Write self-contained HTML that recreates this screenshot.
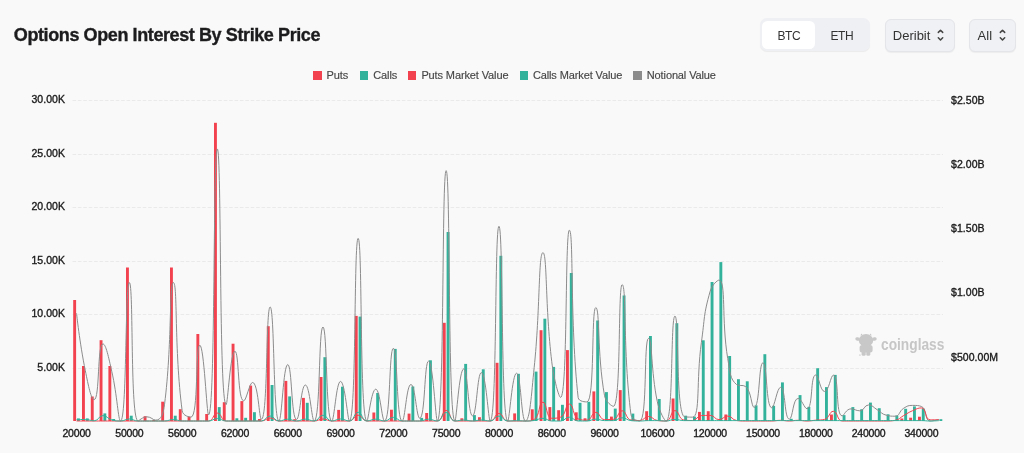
<!DOCTYPE html>
<html><head><meta charset="utf-8">
<style>
*{margin:0;padding:0;box-sizing:border-box}
body{will-change:transform}
html,body{width:1024px;height:453px;overflow:hidden;background:#f9f9f9;font-family:"Liberation Sans",sans-serif}
.title{position:absolute;left:13.8px;top:25.2px;font-size:18px;font-weight:bold;color:#1c1c1e;-webkit-text-stroke:0.35px #1c1c1e;letter-spacing:-0.4px;white-space:nowrap}
.seg{position:absolute;left:760px;top:18.2px;width:110.2px;height:32.5px;background:#eff0f4;border-radius:7px;box-shadow:0 1px 1px rgba(0,0,0,0.06)}
.seg .on{position:absolute;left:2px;top:2.6px;width:52.8px;height:28.4px;background:#fff;border-radius:5.5px}
.seg span{position:absolute;top:11px;font-size:12px;color:#333;letter-spacing:-0.45px}
.dd{position:absolute;top:18.5px;height:33px;background:#f0f1f4;border:1px solid #e4e5e9;border-radius:6px;box-shadow:0 1px 1px rgba(0,0,0,0.05)}
.dd span{position:absolute;top:8.6px;font-size:13px;color:#333;letter-spacing:0px}
.chev{position:absolute;top:28px}
.leg{position:absolute;top:69.2px;font-size:11px;color:#464646;-webkit-text-stroke:0.15px #464646;letter-spacing:-0.12px;white-space:nowrap}
.sq{position:absolute;top:71px;width:8.6px;height:8.6px}
.yl{position:absolute;right:959px;font-size:10.5px;color:#1a1a1a;-webkit-text-stroke:0.35px #1a1a1a;letter-spacing:0.05px;white-space:nowrap;line-height:14px}
.yr{position:absolute;left:951px;font-size:10.5px;color:#1a1a1a;-webkit-text-stroke:0.35px #1a1a1a;letter-spacing:0.05px;white-space:nowrap;line-height:14px}
.xl{position:absolute;top:426px;width:60px;text-align:center;font-size:10.5px;color:#1a1a1a;-webkit-text-stroke:0.35px #1a1a1a;letter-spacing:-0.2px;line-height:14px}
.wm{position:absolute;left:881px;top:335.4px;font-size:16.5px;font-weight:bold;color:#c6c6c6;transform:scaleX(0.833);transform-origin:0 0;line-height:19px}
svg.chart{position:absolute;left:0;top:0}
</style></head><body>
<div class="title">Options Open Interest By Strike Price</div>
<div class="seg"><div class="on"></div><span style="left:17.5px">BTC</span><span style="left:70.5px">ETH</span></div>
<div class="dd" style="left:885px;width:69.5px"><span style="left:6.8px">Deribit</span></div>
<div class="dd" style="left:969px;width:47px"><span style="left:7.6px">All</span></div>

<svg class="chev" style="left:936px" width="9" height="14" viewBox="0 0 9 14"><path d="M2.3 4.4L4.5 2.2L6.7 4.4M2.3 9.8L4.5 12L6.7 9.8" fill="none" stroke="#444" stroke-width="1.5" stroke-linecap="round" stroke-linejoin="round"/></svg>
<svg class="chev" style="left:997.5px" width="9" height="14" viewBox="0 0 9 14"><path d="M2.3 4.4L4.5 2.2L6.7 4.4M2.3 9.8L4.5 12L6.7 9.8" fill="none" stroke="#444" stroke-width="1.5" stroke-linecap="round" stroke-linejoin="round"/></svg>
<div class="sq" style="left:313.2px;background:#f3424f"></div><div class="leg" style="left:326.5px">Puts</div>
<div class="sq" style="left:359.8px;background:#33b29b"></div><div class="leg" style="left:373.3px">Calls</div>
<div class="sq" style="left:407.7px;background:#f3424f"></div><div class="leg" style="left:421.4px">Puts Market Value</div>
<div class="sq" style="left:519.6px;background:#33b29b"></div><div class="leg" style="left:532.9px">Calls Market Value</div>
<div class="sq" style="left:633px;background:#8c8c8c"></div><div class="leg" style="left:646.8px">Notional Value</div>

<svg style="position:absolute;left:852px;top:330px" width="28" height="28" viewBox="0 0 28 28"><g fill="#c8c8c8">
<path d="M8.4 5.4L9.4 3.5L10.8 5.2ZM17.3 5.2L18.7 3.5L19.7 5.4Z"/>
<ellipse cx="14" cy="10.4" rx="7.2" ry="6.3"/>
<ellipse cx="5.6" cy="9" rx="2.3" ry="1.8" transform="rotate(12 5.6 9)"/>
<ellipse cx="22.4" cy="9" rx="2.3" ry="1.8" transform="rotate(-12 22.4 9)"/>
<rect x="7.6" y="15" width="13" height="7.5" rx="2.5"/>
<rect x="9.6" y="20" width="4.1" height="5.8" rx="1.6"/>
<rect x="14.3" y="20" width="4" height="5.8" rx="1.6"/>
<ellipse cx="7.9" cy="25" rx="1" ry="0.6"/>
</g></svg>
<div class="wm">coinglass</div>
<svg class="chart" width="1024" height="453">
<line x1="72" y1="100.5" x2="943" y2="100.5" stroke="#eaeaea" stroke-width="1" stroke-dasharray="3.6 1.8" stroke-dashoffset="-0.5"/>
<line x1="72" y1="154.5" x2="943" y2="154.5" stroke="#eaeaea" stroke-width="1" stroke-dasharray="3.6 1.8" stroke-dashoffset="-0.5"/>
<line x1="72" y1="207.5" x2="943" y2="207.5" stroke="#eaeaea" stroke-width="1" stroke-dasharray="3.6 1.8" stroke-dashoffset="-0.5"/>
<line x1="72" y1="261.5" x2="943" y2="261.5" stroke="#eaeaea" stroke-width="1" stroke-dasharray="3.6 1.8" stroke-dashoffset="-0.5"/>
<line x1="72" y1="314.5" x2="943" y2="314.5" stroke="#eaeaea" stroke-width="1" stroke-dasharray="3.6 1.8" stroke-dashoffset="-0.5"/>
<line x1="72" y1="368.5" x2="943" y2="368.5" stroke="#eaeaea" stroke-width="1" stroke-dasharray="3.6 1.8" stroke-dashoffset="-0.5"/>
<rect x="73.20" y="300.00" width="2.90" height="121.00" fill="#f3424f"/>
<rect x="77.00" y="418.40" width="2.90" height="2.60" fill="#33b29b"/>
<rect x="82.00" y="366.00" width="2.90" height="55.00" fill="#f3424f"/>
<rect x="85.80" y="418.40" width="2.90" height="2.60" fill="#33b29b"/>
<rect x="90.80" y="396.50" width="2.90" height="24.50" fill="#f3424f"/>
<rect x="99.60" y="340.20" width="2.90" height="80.80" fill="#f3424f"/>
<rect x="103.40" y="413.40" width="2.90" height="7.60" fill="#33b29b"/>
<rect x="108.40" y="366.00" width="2.90" height="55.00" fill="#f3424f"/>
<rect x="112.20" y="419.00" width="2.90" height="2.00" fill="#33b29b"/>
<rect x="126.00" y="267.50" width="2.90" height="153.50" fill="#f3424f"/>
<rect x="129.80" y="415.70" width="2.90" height="5.30" fill="#33b29b"/>
<rect x="143.60" y="416.20" width="2.90" height="4.80" fill="#f3424f"/>
<rect x="152.40" y="420.00" width="2.90" height="1.00" fill="#f3424f"/>
<rect x="161.20" y="401.70" width="2.90" height="19.30" fill="#f3424f"/>
<rect x="170.00" y="267.50" width="2.90" height="153.50" fill="#f3424f"/>
<rect x="173.80" y="415.70" width="2.90" height="5.30" fill="#33b29b"/>
<rect x="178.80" y="409.20" width="2.90" height="11.80" fill="#f3424f"/>
<rect x="187.60" y="416.60" width="2.90" height="4.40" fill="#f3424f"/>
<rect x="196.40" y="334.00" width="2.90" height="87.00" fill="#f3424f"/>
<rect x="205.20" y="414.00" width="2.90" height="7.00" fill="#f3424f"/>
<rect x="214.00" y="122.80" width="2.90" height="298.20" fill="#f3424f"/>
<rect x="217.80" y="407.10" width="2.90" height="13.90" fill="#33b29b"/>
<rect x="222.80" y="402.20" width="2.90" height="18.80" fill="#f3424f"/>
<rect x="231.60" y="343.70" width="2.90" height="77.30" fill="#f3424f"/>
<rect x="235.40" y="418.30" width="2.90" height="2.70" fill="#33b29b"/>
<rect x="240.40" y="401.10" width="2.90" height="19.90" fill="#f3424f"/>
<rect x="244.20" y="417.80" width="2.90" height="3.20" fill="#33b29b"/>
<rect x="249.20" y="385.60" width="2.90" height="35.40" fill="#f3424f"/>
<rect x="253.00" y="412.20" width="2.90" height="8.80" fill="#33b29b"/>
<rect x="258.00" y="419.00" width="2.90" height="2.00" fill="#f3424f"/>
<rect x="266.80" y="326.20" width="2.90" height="94.80" fill="#f3424f"/>
<rect x="270.60" y="385.00" width="2.90" height="36.00" fill="#33b29b"/>
<rect x="284.40" y="380.90" width="2.90" height="40.10" fill="#f3424f"/>
<rect x="288.20" y="396.40" width="2.90" height="24.60" fill="#33b29b"/>
<rect x="293.20" y="419.20" width="2.90" height="1.80" fill="#f3424f"/>
<rect x="302.00" y="397.90" width="2.90" height="23.10" fill="#f3424f"/>
<rect x="305.80" y="402.80" width="2.90" height="18.20" fill="#33b29b"/>
<rect x="319.60" y="377.00" width="2.90" height="44.00" fill="#f3424f"/>
<rect x="323.40" y="357.20" width="2.90" height="63.80" fill="#33b29b"/>
<rect x="337.20" y="409.90" width="2.90" height="11.10" fill="#f3424f"/>
<rect x="341.00" y="386.70" width="2.90" height="34.30" fill="#33b29b"/>
<rect x="354.80" y="315.90" width="2.90" height="105.10" fill="#f3424f"/>
<rect x="358.60" y="316.60" width="2.90" height="104.40" fill="#33b29b"/>
<rect x="372.40" y="412.50" width="2.90" height="8.50" fill="#f3424f"/>
<rect x="376.20" y="393.00" width="2.90" height="28.00" fill="#33b29b"/>
<rect x="390.00" y="409.70" width="2.90" height="11.30" fill="#f3424f"/>
<rect x="393.80" y="348.90" width="2.90" height="72.10" fill="#33b29b"/>
<rect x="407.60" y="413.60" width="2.90" height="7.40" fill="#f3424f"/>
<rect x="411.40" y="386.50" width="2.90" height="34.50" fill="#33b29b"/>
<rect x="420.20" y="417.90" width="2.90" height="3.10" fill="#33b29b"/>
<rect x="425.20" y="413.00" width="2.90" height="8.00" fill="#f3424f"/>
<rect x="429.00" y="360.30" width="2.90" height="60.70" fill="#33b29b"/>
<rect x="442.80" y="322.80" width="2.90" height="98.20" fill="#f3424f"/>
<rect x="446.60" y="232.00" width="2.90" height="189.00" fill="#33b29b"/>
<rect x="460.40" y="418.30" width="2.90" height="2.70" fill="#f3424f"/>
<rect x="464.20" y="363.90" width="2.90" height="57.10" fill="#33b29b"/>
<rect x="473.00" y="415.10" width="2.90" height="5.90" fill="#33b29b"/>
<rect x="478.00" y="417.20" width="2.90" height="3.80" fill="#f3424f"/>
<rect x="481.80" y="369.30" width="2.90" height="51.70" fill="#33b29b"/>
<rect x="495.60" y="362.80" width="2.90" height="58.20" fill="#f3424f"/>
<rect x="499.40" y="255.80" width="2.90" height="165.20" fill="#33b29b"/>
<rect x="513.20" y="413.40" width="2.90" height="7.60" fill="#f3424f"/>
<rect x="517.00" y="373.80" width="2.90" height="47.20" fill="#33b29b"/>
<rect x="530.80" y="409.30" width="2.90" height="11.70" fill="#f3424f"/>
<rect x="534.60" y="371.60" width="2.90" height="49.40" fill="#33b29b"/>
<rect x="539.60" y="330.20" width="2.90" height="90.80" fill="#f3424f"/>
<rect x="543.40" y="318.70" width="2.90" height="102.30" fill="#33b29b"/>
<rect x="548.40" y="407.10" width="2.90" height="13.90" fill="#f3424f"/>
<rect x="552.20" y="366.90" width="2.90" height="54.10" fill="#33b29b"/>
<rect x="557.20" y="410.20" width="2.90" height="10.80" fill="#f3424f"/>
<rect x="561.00" y="404.80" width="2.90" height="16.20" fill="#33b29b"/>
<rect x="566.00" y="350.10" width="2.90" height="70.90" fill="#f3424f"/>
<rect x="569.80" y="273.00" width="2.90" height="148.00" fill="#33b29b"/>
<rect x="574.80" y="412.30" width="2.90" height="8.70" fill="#f3424f"/>
<rect x="578.60" y="402.80" width="2.90" height="18.20" fill="#33b29b"/>
<rect x="583.60" y="418.30" width="2.90" height="2.70" fill="#f3424f"/>
<rect x="587.40" y="401.80" width="2.90" height="19.20" fill="#33b29b"/>
<rect x="592.40" y="391.40" width="2.90" height="29.60" fill="#f3424f"/>
<rect x="596.20" y="320.50" width="2.90" height="100.50" fill="#33b29b"/>
<rect x="605.00" y="392.10" width="2.90" height="28.90" fill="#33b29b"/>
<rect x="610.00" y="416.60" width="2.90" height="4.40" fill="#f3424f"/>
<rect x="613.80" y="408.60" width="2.90" height="12.40" fill="#33b29b"/>
<rect x="618.80" y="390.10" width="2.90" height="30.90" fill="#f3424f"/>
<rect x="622.60" y="295.50" width="2.90" height="125.50" fill="#33b29b"/>
<rect x="631.40" y="413.60" width="2.90" height="7.40" fill="#33b29b"/>
<rect x="645.20" y="411.20" width="2.90" height="9.80" fill="#f3424f"/>
<rect x="649.00" y="336.00" width="2.90" height="85.00" fill="#33b29b"/>
<rect x="657.80" y="399.00" width="2.90" height="22.00" fill="#33b29b"/>
<rect x="671.60" y="398.50" width="2.90" height="22.50" fill="#f3424f"/>
<rect x="675.40" y="323.20" width="2.90" height="97.80" fill="#33b29b"/>
<rect x="684.20" y="415.70" width="2.90" height="5.30" fill="#33b29b"/>
<rect x="693.00" y="416.60" width="2.90" height="4.40" fill="#33b29b"/>
<rect x="698.00" y="411.90" width="2.90" height="9.10" fill="#f3424f"/>
<rect x="701.80" y="340.30" width="2.90" height="80.70" fill="#33b29b"/>
<rect x="706.80" y="411.20" width="2.90" height="9.80" fill="#f3424f"/>
<rect x="710.60" y="282.00" width="2.90" height="139.00" fill="#33b29b"/>
<rect x="719.40" y="262.10" width="2.90" height="158.90" fill="#33b29b"/>
<rect x="724.40" y="414.50" width="2.90" height="6.50" fill="#f3424f"/>
<rect x="728.20" y="356.00" width="2.90" height="65.00" fill="#33b29b"/>
<rect x="737.00" y="379.20" width="2.90" height="41.80" fill="#33b29b"/>
<rect x="745.80" y="381.30" width="2.90" height="39.70" fill="#33b29b"/>
<rect x="754.60" y="405.40" width="2.90" height="15.60" fill="#33b29b"/>
<rect x="763.40" y="354.20" width="2.90" height="66.80" fill="#33b29b"/>
<rect x="772.20" y="405.80" width="2.90" height="15.20" fill="#33b29b"/>
<rect x="781.00" y="382.40" width="2.90" height="38.60" fill="#33b29b"/>
<rect x="789.80" y="418.80" width="2.90" height="2.20" fill="#33b29b"/>
<rect x="798.60" y="395.10" width="2.90" height="25.90" fill="#33b29b"/>
<rect x="807.40" y="406.90" width="2.90" height="14.10" fill="#33b29b"/>
<rect x="816.20" y="368.20" width="2.90" height="52.80" fill="#33b29b"/>
<rect x="825.00" y="387.10" width="2.90" height="33.90" fill="#33b29b"/>
<rect x="830.00" y="414.50" width="2.90" height="6.50" fill="#f3424f"/>
<rect x="833.80" y="374.90" width="2.90" height="46.10" fill="#33b29b"/>
<rect x="842.60" y="415.10" width="2.90" height="5.90" fill="#33b29b"/>
<rect x="851.40" y="407.10" width="2.90" height="13.90" fill="#33b29b"/>
<rect x="860.20" y="409.30" width="2.90" height="11.70" fill="#33b29b"/>
<rect x="869.00" y="402.60" width="2.90" height="18.40" fill="#33b29b"/>
<rect x="877.80" y="408.20" width="2.90" height="12.80" fill="#33b29b"/>
<rect x="886.60" y="414.30" width="2.90" height="6.70" fill="#33b29b"/>
<rect x="895.40" y="415.50" width="2.90" height="5.50" fill="#33b29b"/>
<rect x="900.40" y="418.50" width="2.90" height="2.50" fill="#f3424f"/>
<rect x="904.20" y="408.80" width="2.90" height="12.20" fill="#33b29b"/>
<rect x="909.20" y="417.70" width="2.90" height="3.30" fill="#f3424f"/>
<rect x="913.00" y="406.40" width="2.90" height="14.60" fill="#33b29b"/>
<rect x="918.00" y="416.70" width="2.90" height="4.30" fill="#f3424f"/>
<rect x="921.80" y="408.60" width="2.90" height="12.40" fill="#33b29b"/>
<rect x="939.40" y="419.20" width="2.90" height="1.80" fill="#33b29b"/>
<path d="M76.55 313.26C76.55 313.26 79.55 342.34 85.35 370.79C88.35 385.53 91.08 399.64 94.15 399.64C99.88 399.64 97.12 343.94 102.95 343.94C105.92 343.94 108.56 357.33 111.75 371.31C117.36 395.86 118.20 421.00 120.55 421.00C127.00 421.00 124.95 282.57 129.35 282.57C133.75 282.57 129.93 421.00 138.15 421.00C138.73 421.00 142.47 416.82 146.95 416.82C151.27 416.82 152.75 420.13 155.75 420.13C161.55 420.13 163.41 413.12 164.55 404.18C172.21 344.34 169.06 282.57 173.35 282.57C177.86 282.57 174.04 348.69 182.15 410.71C182.84 415.98 189.80 417.16 190.95 417.16C198.60 417.16 195.28 345.16 199.75 345.16C204.08 345.16 206.71 414.90 208.55 414.90C215.51 414.90 212.86 148.94 217.35 148.94C221.66 148.94 218.89 404.61 226.15 404.61C227.69 404.61 230.39 351.26 234.95 351.26C239.19 351.26 237.49 400.86 243.75 400.86C246.29 400.86 249.47 382.47 252.55 382.47C258.27 382.47 259.14 419.26 261.35 419.26C267.94 419.26 265.78 306.98 270.15 306.98C274.58 306.98 273.08 421.00 278.95 421.00C281.88 421.00 283.29 364.60 287.75 364.60C292.09 364.60 291.18 419.43 296.55 419.43C299.98 419.43 301.04 385.00 305.35 385.00C309.84 385.00 311.67 421.00 314.15 421.00C320.47 421.00 318.55 327.03 322.95 327.03C327.35 327.03 325.59 421.00 331.75 421.00C334.39 421.00 336.15 381.42 340.55 381.42C344.95 381.42 347.75 421.00 349.35 421.00C356.55 421.00 353.75 238.38 358.15 238.38C362.55 238.38 359.50 421.00 366.95 421.00C368.30 421.00 371.35 389.18 375.75 389.18C380.15 389.18 381.82 421.00 384.55 421.00C390.62 421.00 388.95 348.30 393.35 348.30C397.75 348.30 396.33 421.00 402.15 421.00C405.13 421.00 406.39 384.48 410.95 384.48C415.19 384.48 416.44 418.30 419.75 418.30C425.24 418.30 424.25 361.11 428.55 361.11C433.05 361.11 435.64 421.00 437.35 421.00C444.44 421.00 441.75 170.65 446.15 170.65C450.55 170.65 447.68 421.00 454.95 421.00C456.48 421.00 459.13 368.87 463.75 368.87C467.93 368.87 467.97 415.86 472.55 415.86C476.77 415.86 477.19 372.62 481.35 372.62C485.99 372.62 488.38 421.00 490.15 421.00C497.18 421.00 494.55 226.26 498.95 226.26C503.35 226.26 500.71 421.00 507.75 421.00C509.51 421.00 512.15 373.23 516.55 373.23C520.95 373.23 521.18 421.00 525.35 421.00C529.98 421.00 531.35 394.56 534.15 367.74C540.15 310.40 538.43 252.67 542.95 252.67C547.23 252.67 545.17 307.55 551.75 361.72C553.97 379.95 558.96 397.46 560.55 397.46C567.76 397.46 564.95 230.18 569.35 230.18C573.75 230.18 569.84 323.17 578.15 397.55C578.64 401.91 586.12 401.91 586.95 401.91C594.92 401.91 591.20 307.59 595.75 307.59C600.00 307.59 596.93 353.05 604.55 395.81C605.73 402.43 612.46 406.36 613.35 406.36C621.26 406.36 617.89 284.67 622.15 284.67C626.69 284.67 622.83 351.65 630.95 414.55C631.63 419.82 638.73 421.00 639.75 421.00C647.53 421.00 643.58 338.36 648.55 338.36C652.38 338.36 650.73 370.74 657.35 401.82C659.53 412.06 664.68 421.00 666.15 421.00C673.48 421.00 670.45 316.13 674.95 316.13C679.25 316.13 675.66 407.44 683.75 416.38C684.46 417.16 691.62 417.16 692.55 417.16C700.42 417.16 696.16 379.83 701.35 342.72C704.96 316.89 703.24 315.89 710.15 291.29C712.04 284.58 717.61 280.10 718.95 280.10C726.41 280.10 721.21 319.86 727.75 358.67C730.01 372.10 729.93 378.99 736.55 384.56C738.73 386.39 742.86 384.56 745.35 386.39C751.66 391.03 751.21 407.40 754.15 407.40C760.01 407.40 758.57 362.77 762.95 362.77C767.37 362.77 765.82 407.75 771.75 407.75C774.62 407.75 777.00 387.35 780.55 387.35C785.80 387.35 784.12 419.08 789.35 419.08C792.92 419.08 792.66 398.42 798.15 398.42C801.46 398.42 804.49 408.71 806.95 408.71C813.29 408.71 810.02 374.97 815.75 374.97C818.82 374.97 820.13 391.45 824.55 391.45C828.93 391.45 830.64 375.15 833.35 375.15C839.44 375.15 835.22 415.86 842.15 415.86C844.02 415.86 846.07 408.88 850.95 408.88C854.87 408.88 855.70 410.80 859.75 410.80C864.50 410.80 864.04 404.96 868.55 404.96C872.84 404.96 873.00 407.32 877.35 409.84C881.80 412.42 881.42 413.95 886.15 415.16C890.22 416.21 891.19 416.21 894.95 416.21C899.99 416.21 898.79 411.23 903.75 408.19C907.59 405.83 908.06 405.40 912.55 405.40C916.86 405.40 918.34 405.40 921.35 406.44C927.14 408.45 924.38 421.00 930.15 421.00C933.18 421.00 938.95 419.43 938.95 419.43" fill="none" stroke="#8c8c8c" stroke-width="1"/>
<path d="M76.55 421.00C76.55 421.00 80.95 421.00 85.35 421.00C89.75 421.00 89.75 421.00 94.15 421.00C98.55 421.00 98.55 421.00 102.95 421.00C107.35 421.00 107.35 421.00 111.75 421.00C116.15 421.00 116.15 421.00 120.55 421.00C124.95 421.00 124.95 421.00 129.35 421.00C133.75 421.00 133.75 421.00 138.15 421.00C142.55 421.00 142.55 421.00 146.95 421.00C151.35 421.00 151.35 421.00 155.75 421.00C160.15 421.00 160.15 421.00 164.55 421.00C168.95 421.00 168.95 421.00 173.35 421.00C177.75 421.00 177.75 421.00 182.15 421.00C186.55 421.00 186.55 421.00 190.95 421.00C195.35 421.00 195.35 421.00 199.75 421.00C204.15 421.00 204.80 421.00 208.55 421.00C213.60 421.00 212.95 413.10 217.35 413.10C221.75 413.10 221.10 421.00 226.15 421.00C229.90 421.00 230.55 421.00 234.95 421.00C239.35 421.00 239.35 421.00 243.75 421.00C248.15 421.00 248.15 421.00 252.55 421.00C256.95 421.00 257.07 421.00 261.35 421.00C265.87 421.00 265.75 418.00 270.15 418.00C274.55 418.00 274.43 421.00 278.95 421.00C283.23 421.00 283.35 421.00 287.75 421.00C292.15 421.00 292.15 421.00 296.55 421.00C300.95 421.00 300.95 421.00 305.35 421.00C309.75 421.00 309.81 421.00 314.15 421.00C318.61 421.00 318.55 419.00 322.95 419.00C327.35 419.00 327.29 421.00 331.75 421.00C336.09 421.00 336.15 421.00 340.55 421.00C344.95 421.00 345.35 421.00 349.35 421.00C354.15 421.00 353.75 415.20 358.15 415.20C362.55 415.20 362.15 421.00 366.95 421.00C370.95 421.00 371.35 421.00 375.75 421.00C380.15 421.00 380.15 421.00 384.55 421.00C388.95 421.00 388.95 421.00 393.35 421.00C397.75 421.00 397.75 421.00 402.15 421.00C406.55 421.00 406.55 421.00 410.95 421.00C415.35 421.00 415.35 421.00 419.75 421.00C424.15 421.00 424.15 421.00 428.55 421.00C432.95 421.00 433.92 421.00 437.35 421.00C442.72 421.00 441.75 410.40 446.15 410.40C450.55 410.40 449.58 421.00 454.95 421.00C458.38 421.00 459.35 421.00 463.75 421.00C468.15 421.00 468.15 421.00 472.55 421.00C476.95 421.00 476.95 421.00 481.35 421.00C485.75 421.00 486.35 421.00 490.15 421.00C495.15 421.00 494.55 413.50 498.95 413.50C503.35 413.50 502.75 421.00 507.75 421.00C511.55 421.00 512.15 421.00 516.55 421.00C520.95 421.00 520.98 421.00 525.35 421.00C529.78 421.00 531.38 421.00 534.15 419.50C540.18 416.24 538.43 402.20 542.95 402.20C547.23 402.20 545.82 418.30 551.75 418.30C554.62 418.30 557.38 418.30 560.55 417.20C566.18 415.24 565.13 404.10 569.35 404.10C573.93 404.10 572.36 416.11 578.15 418.80C581.16 420.20 583.16 420.20 586.95 420.20C591.96 420.20 591.28 412.40 595.75 412.40C600.08 412.40 599.59 419.60 604.55 419.60C608.39 419.60 609.68 419.60 613.35 419.40C618.48 419.12 617.82 410.80 622.15 410.80C626.62 410.80 625.75 419.28 630.95 420.00C634.55 420.50 635.55 420.50 639.75 420.50C644.35 420.50 644.15 416.50 648.55 416.50C652.95 416.50 652.75 419.95 657.35 420.50C661.55 421.00 662.69 421.00 666.15 421.00C671.49 421.00 670.43 410.60 674.95 410.60C679.23 410.60 678.53 419.27 683.75 420.00C687.33 420.50 688.44 420.50 692.55 420.50C697.24 420.50 696.65 415.83 701.35 415.60C705.45 415.40 705.97 415.40 710.15 415.40C714.77 415.40 714.49 419.60 718.95 419.60C723.29 419.60 723.43 416.10 727.75 416.10C732.23 416.10 731.91 419.94 736.55 420.50C740.71 421.00 740.95 421.00 745.35 421.00C749.75 421.00 749.75 421.00 754.15 421.00C758.55 421.00 758.55 421.00 762.95 421.00C767.35 421.00 767.36 421.00 771.75 421.00C776.16 421.00 776.15 420.30 780.55 420.30C784.95 420.30 784.95 421.00 789.35 421.00C793.75 421.00 793.75 420.30 798.15 420.30C802.55 420.30 802.55 421.00 806.95 421.00C811.35 421.00 811.35 420.60 815.75 420.20C820.15 419.80 820.81 420.20 824.55 419.40C829.61 418.32 829.15 411.30 833.35 411.30C837.95 411.30 836.89 421.00 842.15 421.00C845.69 421.00 846.55 421.00 850.95 421.00C855.35 421.00 855.35 421.00 859.75 421.00C864.15 421.00 864.15 421.00 868.55 421.00C872.95 421.00 872.95 421.00 877.35 421.00C881.75 421.00 881.76 421.00 886.15 421.00C890.56 421.00 890.84 421.00 894.95 420.40C899.64 419.71 899.34 417.93 903.75 415.50C908.14 413.08 907.97 412.68 912.55 410.70C916.77 408.88 917.97 407.90 921.35 407.90C926.77 407.90 924.63 419.80 930.15 419.80C933.43 419.80 938.95 419.80 938.95 419.80" fill="none" stroke="#f3424f" stroke-width="1"/>
<path d="M76.55 419.50C76.55 419.50 80.97 419.50 85.35 419.50C89.77 419.50 90.06 420.80 94.15 420.80C98.86 420.80 98.46 415.60 102.95 415.60C107.26 415.60 107.13 418.69 111.75 419.90C115.93 421.00 116.19 421.00 120.55 421.00C124.99 421.00 124.95 419.00 129.35 419.00C133.75 419.00 133.69 421.00 138.15 421.00C142.49 421.00 142.55 421.00 146.95 421.00C151.35 421.00 151.35 421.00 155.75 421.00C160.15 421.00 160.18 421.00 164.55 421.00C168.98 421.00 168.95 419.50 173.35 419.50C177.75 419.50 177.72 421.00 182.15 421.00C186.52 421.00 186.55 421.00 190.95 421.00C195.35 421.00 195.35 421.00 199.75 421.00C204.15 421.00 204.24 421.00 208.55 421.00C213.04 421.00 212.95 418.50 217.35 418.50C221.75 418.50 221.66 421.00 226.15 421.00C230.46 421.00 230.55 421.00 234.95 421.00C239.35 421.00 239.35 421.00 243.75 421.00C248.15 421.00 248.15 421.00 252.55 421.00C256.95 421.00 257.26 421.00 261.35 421.00C266.06 421.00 265.75 416.00 270.15 416.00C274.55 416.00 274.29 421.00 278.95 421.00C283.09 421.00 283.35 419.20 287.75 419.20C292.15 419.20 292.15 421.00 296.55 421.00C300.95 421.00 300.95 419.20 305.35 419.20C309.75 419.20 310.10 421.00 314.15 421.00C318.90 421.00 318.55 415.20 322.95 415.20C327.35 415.20 327.01 421.00 331.75 421.00C335.81 421.00 336.15 419.00 340.55 419.00C344.95 419.00 345.64 421.00 349.35 421.00C354.44 421.00 353.75 412.30 358.15 412.30C362.55 412.30 361.85 421.00 366.95 421.00C370.65 421.00 371.35 419.20 375.75 419.20C380.15 419.20 380.28 421.00 384.55 421.00C389.08 421.00 388.95 417.40 393.35 417.40C397.75 417.40 397.58 421.00 402.15 421.00C406.38 421.00 406.55 421.00 410.95 421.00C415.35 421.00 415.40 421.00 419.75 421.00C424.20 421.00 424.15 419.20 428.55 419.20C432.95 419.20 433.62 421.00 437.35 421.00C442.42 421.00 441.75 412.50 446.15 412.50C450.55 412.50 449.85 421.00 454.95 421.00C458.65 421.00 459.35 420.00 463.75 420.00C468.15 420.00 468.15 421.00 472.55 421.00C476.95 421.00 476.95 420.00 481.35 420.00C485.75 420.00 486.03 421.00 490.15 421.00C494.83 421.00 494.55 416.10 498.95 416.10C503.35 416.10 503.05 421.00 507.75 421.00C511.85 421.00 512.15 420.70 516.55 420.70C520.95 420.70 520.95 421.00 525.35 421.00C529.75 421.00 529.81 421.00 534.15 420.50C538.61 419.99 538.58 418.30 542.95 418.30C547.38 418.30 547.25 421.00 551.75 421.00C556.05 421.00 556.34 421.00 560.55 421.00C565.14 421.00 564.95 417.20 569.35 417.20C573.75 417.20 573.56 421.00 578.15 421.00C582.36 421.00 582.60 421.00 586.95 421.00C591.40 421.00 591.33 419.20 595.75 419.20C600.13 419.20 600.12 420.60 604.55 420.60C608.92 420.60 609.06 420.60 613.35 420.60C617.86 420.60 617.75 417.80 622.15 417.80C626.55 417.80 626.45 420.18 630.95 420.60C635.25 421.00 635.35 421.00 639.75 421.00C644.15 421.00 644.15 420.60 648.55 420.60C652.95 420.60 652.95 420.60 657.35 420.60C661.75 420.60 661.78 421.00 666.15 421.00C670.58 421.00 670.53 419.40 674.95 419.40C679.33 419.40 679.33 420.60 683.75 420.60C688.13 420.60 688.15 420.60 692.55 420.60C696.95 420.60 696.95 420.60 701.35 420.60C705.75 420.60 705.75 420.60 710.15 420.60C714.55 420.60 714.55 420.60 718.95 420.60C723.35 420.60 723.35 420.60 727.75 420.60C732.15 420.60 732.15 420.60 736.55 420.60C740.95 420.60 740.95 420.60 745.35 420.60C749.75 420.60 749.75 420.60 754.15 420.60C758.55 420.60 758.55 420.60 762.95 420.60C767.35 420.60 767.35 420.60 771.75 420.60C776.15 420.60 776.15 420.60 780.55 420.60C784.95 420.60 784.95 420.60 789.35 420.60C793.75 420.60 793.75 420.60 798.15 420.60C802.55 420.60 802.55 420.60 806.95 420.60C811.35 420.60 811.35 420.60 815.75 420.60C820.15 420.60 820.15 420.60 824.55 420.60C828.95 420.60 828.95 420.60 833.35 420.60C837.75 420.60 837.75 420.60 842.15 420.60C846.55 420.60 846.55 420.60 850.95 420.60C855.35 420.60 855.35 420.60 859.75 420.60C864.15 420.60 864.15 420.60 868.55 420.60C872.95 420.60 872.95 420.60 877.35 420.60C881.75 420.60 881.75 420.60 886.15 420.60C890.55 420.60 890.55 420.60 894.95 420.60C899.35 420.60 899.35 420.60 903.75 420.60C908.15 420.60 908.15 420.60 912.55 420.60C916.95 420.60 916.95 420.60 921.35 420.60C925.75 420.60 925.75 421.00 930.15 421.00C934.55 421.00 938.95 420.60 938.95 420.60" fill="none" stroke="#33b29b" stroke-width="1"/>
</svg>
<div class="yl" style="top:91.7px">30.00K</div>
<div class="yl" style="top:145.7px">25.00K</div>
<div class="yl" style="top:198.7px">20.00K</div>
<div class="yl" style="top:252.7px">15.00K</div>
<div class="yl" style="top:305.7px">10.00K</div>
<div class="yl" style="top:359.7px">5.00K</div>
<div class="yr" style="top:92.7px">$2.50B</div>
<div class="yr" style="top:156.9px">$2.00B</div>
<div class="yr" style="top:221.1px">$1.50B</div>
<div class="yr" style="top:285.3px">$1.00B</div>
<div class="yr" style="top:349.5px">$500.00M</div>
<div class="xl" style="left:46.6px">20000</div>
<div class="xl" style="left:99.4px">50000</div>
<div class="xl" style="left:152.2px">56000</div>
<div class="xl" style="left:205.0px">62000</div>
<div class="xl" style="left:257.8px">66000</div>
<div class="xl" style="left:310.6px">69000</div>
<div class="xl" style="left:363.4px">72000</div>
<div class="xl" style="left:416.2px">75000</div>
<div class="xl" style="left:469.0px">80000</div>
<div class="xl" style="left:521.8px">86000</div>
<div class="xl" style="left:574.6px">96000</div>
<div class="xl" style="left:627.4px">106000</div>
<div class="xl" style="left:680.1px">120000</div>
<div class="xl" style="left:733.0px">150000</div>
<div class="xl" style="left:785.8px">180000</div>
<div class="xl" style="left:838.6px">240000</div>
<div class="xl" style="left:891.4px">340000</div>
</body></html>
